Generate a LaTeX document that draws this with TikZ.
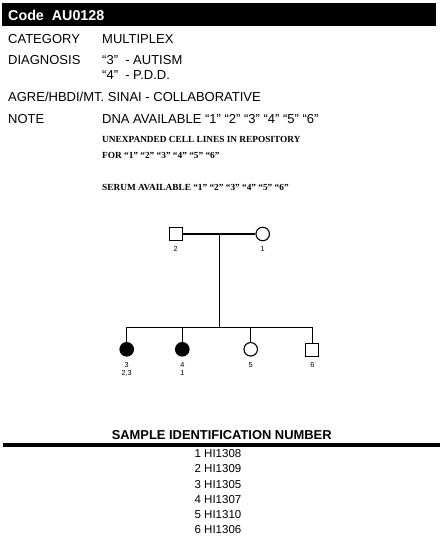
\documentclass[tikz,border=0pt]{standalone}
\usepackage{fontspec}
\setmainfont{Liberation Sans}
\newfontfamily\serifb{Liberation Serif}
\begin{document}
\begin{tikzpicture}[x=1pt,y=-1pt,
  lbl/.style={anchor=base west,inner sep=0pt,font=\fontsize{13}{13}\selectfont},
  nt/.style={anchor=base west,inner sep=0pt,font=\serifb\bfseries\fontsize{9.3}{9.3}\selectfont},
  idl/.style={anchor=center,inner sep=0pt,font=\fontsize{11.5}{11.5}\selectfont},
  tag/.style={anchor=center,inner sep=0pt,font=\fontsize{7.3}{7.3}\selectfont},
  male/.style={draw,line width=1.1pt,minimum size=13pt,inner sep=0pt},
  fem/.style={draw,circle,line width=1.1pt,minimum size=13.5pt,inner sep=0pt},
  aff/.style={fill=black},
  ln/.style={line width=1.1pt}]
\useasboundingbox (0,0) rectangle (440,537);
\fill[black] (2,3.5) rectangle (436,26.5);
\node[anchor=base west,inner sep=0pt,text=white,font=\bfseries\fontsize{14.3}{14.3}\selectfont] (code) at (8,20.5) {Code\ \ AU0128};
\node[lbl] (cat) at (8,43.7) {CATEGORY};
\node[lbl] (catv) at (102,43.7) {MULTIPLEX};
\node[lbl] (dia) at (8,64.3) {DIAGNOSIS};
\node[lbl] (dia1) at (102,64.3) {“3”\ \ - AUTISM};
\node[lbl] (dia2) at (102,80) {“4”\ \ - P.D.D.};
\node[lbl] (agre) at (8,101.7) {AGRE/HBDI/MT. SINAI - COLLABORATIVE};
\node[lbl] (note) at (8,123.3) {NOTE};
\node[lbl] (dna) at (102,123.3) {DNA AVAILABLE “1” “2” “3” “4” “5” “6”};
\node[nt] (unx) at (102,142.7) {UNEXPANDED CELL LINES IN REPOSITORY};
\node[nt] (for) at (102,159) {FOR “1” “2” “3” “4” “5” “6”};
\node[nt] (ser) at (102,190.7) {SERUM AVAILABLE “1” “2” “3” “4” “5” “6”};
% pedigree
\node[male] (p2) at (175.7,234) {};
\node[fem] (p1) at (262.7,234) {};
\coordinate (m) at (219.3,234);
\coordinate (s) at (219.3,327.3);
\coordinate (sl) at (126.7,327.3);
\coordinate (s4) at (182.3,327.3);
\coordinate (s5) at (250.7,327.3);
\coordinate (sr) at (312.3,327.3);
\node[fem,aff] (p3) at (126.7,349.3) {};
\node[fem,aff] (p4) at (182.3,349.3) {};
\node[fem] (p5) at (250.7,349.3) {};
\node[male] (p6) at (312.3,349.7) {};
\draw[ln] (p2) -- (p1);
\draw[ln] (m) -- (s);
\draw[ln] (sl) -- (sr);
\draw[ln] (sl) -- (p3);
\draw[ln] (s4) -- (p4);
\draw[ln] (s5) -- (p5);
\draw[ln] (sr) -- (p6);
\node[tag] (t2) at (175.7,249.3) {2};
\node[tag] (t1) at (262.7,249.3) {1};
\node[tag] (t3) at (126.7,365) {3};
\node[tag] (t3b) at (126.7,373.3) {2,3};
\node[tag] (t4) at (182.3,365) {4};
\node[tag] (t4b) at (182.3,373.3) {1};
\node[tag] (t5) at (250.7,365) {5};
\node[tag] (t6) at (312.3,365) {6};
% bottom
\node[anchor=center,inner sep=0pt,font=\bfseries\fontsize{12.9}{12.9}\selectfont] (sin) at (221.7,435) {SAMPLE IDENTIFICATION NUMBER};
\draw[line width=4pt] (3,444.7) -- (440,444.7);
\node[idl] (i1) at (218,454) {1 HI1308};
\node[idl] (i2) at (218,469) {2 HI1309};
\node[idl] (i3) at (218,484.2) {3 HI1305};
\node[idl] (i4) at (218,499.3) {4 HI1307};
\node[idl] (i5) at (218,514.4) {5 HI1310};
\node[idl] (i6) at (218,529.5) {6 HI1306};
\end{tikzpicture}
\end{document}
